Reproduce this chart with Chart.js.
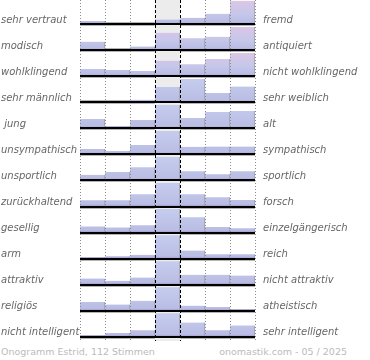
<!DOCTYPE html>
<html>
<head>
<meta charset="utf-8">
<script src="https://cdn.jsdelivr.net/npm/chart.js@4.4.1/dist/chart.umd.min.js"></script>
<style>
  body { margin: 0; background: #fff; }
  #wrap { position: relative; width: 370px; height: 341px; }
  #footer { position: relative; width: 370px; height: 19px; font-family: "DejaVu Sans", sans-serif; font-size: 9.5px; color: #bbb; }
  #footer span { position: absolute; top: 5px; white-space: nowrap; }
  #footLeft { left: 1px; }
  #footRight { right: 23px; }
</style>
</head>
<body>
<div id="wrap"><canvas id="myChart"></canvas></div>
<div id="footer"><span id="footLeft">Onogramm Estrid, 112 Stimmen</span><span id="footRight">onomastik.com - 05 / 2025</span></div>
<script>
// left / right pole of each scale
var leftLabels = ["sehr vertraut", "modisch", "wohlklingend", "sehr männlich", " jung", "unsympathisch", "unsportlich",
    "zurückhaltend", "gesellig", "arm", "attraktiv", "religiös", "nicht intelligent"];
var rightLabels = ["fremd", "antiquiert", "nicht wohlklingend", "sehr weiblich", "alt", "sympathisch", "sportlich",
    "forsch", "einzelgängerisch", "reich", "nicht attraktiv", "atheistisch", "sehr intelligent"];
var steps = ["1", "2", "3", "4", "5", "6", "7"];

// share of votes per step, in % of the row maximum
var vertrautFremd = [14, 3, 7, 20, 28, 45, 100];
var modischAntiquiert = [37, 4, 16, 75, 52, 58, 100];
var wohlklingend = [31, 27, 23, 67, 52, 74, 100];
var maennlichWeiblich = [7, 7, 11, 66, 100, 40, 68];
var jungAlt = [40, 10, 36, 100, 44, 70, 74];
var sympathisch = [23, 15, 40, 100, 33, 34, 34];
var sportlich = [24, 36, 56, 100, 39, 27, 39];
var zurueckhaltendForsch = [27, 27, 52, 100, 52, 39, 28];
var geselligEinzelgaenger = [26, 22, 31, 100, 65, 24, 18];
var armReich = [7, 10, 16, 100, 34, 18, 18];
var attraktiv = [26, 16, 30, 100, 42, 42, 39];
var religioesAtheistisch = [37, 26, 42, 100, 21, 15, 6];
var intelligent = [6, 16, 27, 100, 60, 27, 48];

var rows = [vertrautFremd, modischAntiquiert, wohlklingend, maennlichWeiblich, jungAlt, sympathisch, sportlich,
    zurueckhaltendForsch, geselligEinzelgaenger, armReich, attraktiv, religioesAtheistisch, intelligent];

var neutralStep = 3;
var FULL = 0.9;      // bar height of a 100% value, in row units
var Y_MIN = 0.0665;
var Y_MAX = 13.167;

function barFill(context) {
    var chart = context.chart;
    if (!chart.chartArea) return "#c4c8ea";
    var r = context.dataset.rowIndex;
    var y = chart.scales.y;
    var bottom = y.getPixelForValue(r + 1);
    var top = y.getPixelForValue(r + 1 - FULL);
    var g = chart.ctx.createLinearGradient(0, bottom, 0, top);
    g.addColorStop(0, "#a098cc");
    g.addColorStop(0.1, "#babde4");
    if (r < 3) {
        g.addColorStop(0.45, "#c6c7ea");
        g.addColorStop(1, "#dcc6e6");
    } else {
        g.addColorStop(1, "#c5cdee");
    }
    return g;
}

var datasets = [{
    data: steps.map(function (s, i) { return i === neutralStep ? [Y_MIN, Y_MAX] : null; }),
    backgroundColor: "#ececec",
    order: 2
}];

rows.forEach(function (values, r) {
    datasets.push({
        rowIndex: r,
        data: values.map(function (v) { return [r + 1 - v / 100 * FULL, r + 1]; }),
        backgroundColor: barFill,
        borderColor: "#9b9ba8",
        borderWidth: { top: 0, right: 1, bottom: 0, left: 0 },
        borderSkipped: false,
        order: 1
    });
});

var labelFont = { family: "DejaVu Sans", size: 10, style: "italic" };

var ctx = document.getElementById("myChart");
var myChart = new Chart(ctx, {
    type: "bar",
    data: { labels: steps, datasets: datasets },
    options: {
        responsive: true,
        maintainAspectRatio: false,
        animation: false,
        events: [],
        layout: { padding: { left: 1, right: 0, top: 0, bottom: 0 } },
        datasets: { bar: { grouped: false, barPercentage: 1, categoryPercentage: 1 } },
        plugins: { legend: { display: false }, tooltip: { enabled: false } },
        scales: {
            x: {
                type: "category",
                offset: true,
                grid: {
                    offset: true,
                    z: 1,
                    drawTicks: false,
                    lineWidth: 1,
                    color: function (c) { return (c.index === neutralStep || c.index === neutralStep + 1) ? "#000" : "#8c8c8c"; }
                },
                border: {
                    display: false,
                    dash: function (c) { return (c.index === neutralStep || c.index === neutralStep + 1) ? [3, 2] : [1, 2]; }
                },
                ticks: { display: false },
                afterFit: function (s) { s.height = 0; s.paddingLeft = 0; s.paddingRight = 0; }
            },
            y: {
                type: "linear",
                position: "left",
                reverse: true,
                min: Y_MIN,
                max: Y_MAX,
                afterBuildTicks: function (s) { s.ticks = leftLabels.map(function (l, i) { return { value: i + 1 }; }); },
                afterFit: function (s) { s.width = 79; s.paddingTop = 0; s.paddingBottom = 0; },
                grid: { color: "#000", lineWidth: 2, drawTicks: false, z: 2 },
                border: { display: false },
                ticks: {
                    autoSkip: false,
                    crossAlign: "far",
                    labelOffset: -4,
                    padding: 0,
                    color: "#666",
                    font: labelFont,
                    callback: function (v, i) { return leftLabels[i]; }
                }
            },
            y2: {
                type: "linear",
                position: "right",
                reverse: true,
                min: Y_MIN,
                max: Y_MAX,
                afterBuildTicks: function (s) { s.ticks = rightLabels.map(function (l, i) { return { value: i + 1 }; }); },
                afterFit: function (s) { s.width = 115; s.paddingTop = 0; s.paddingBottom = 0; },
                grid: { color: "#b4b4b4", lineWidth: 4, drawTicks: false },
                border: { display: false },
                ticks: {
                    autoSkip: false,
                    labelOffset: -4,
                    padding: 8,
                    color: "#666",
                    font: labelFont,
                    callback: function (v, i) { return rightLabels[i]; }
                }
            }
        }
    }
});
</script>
</body>
</html>
